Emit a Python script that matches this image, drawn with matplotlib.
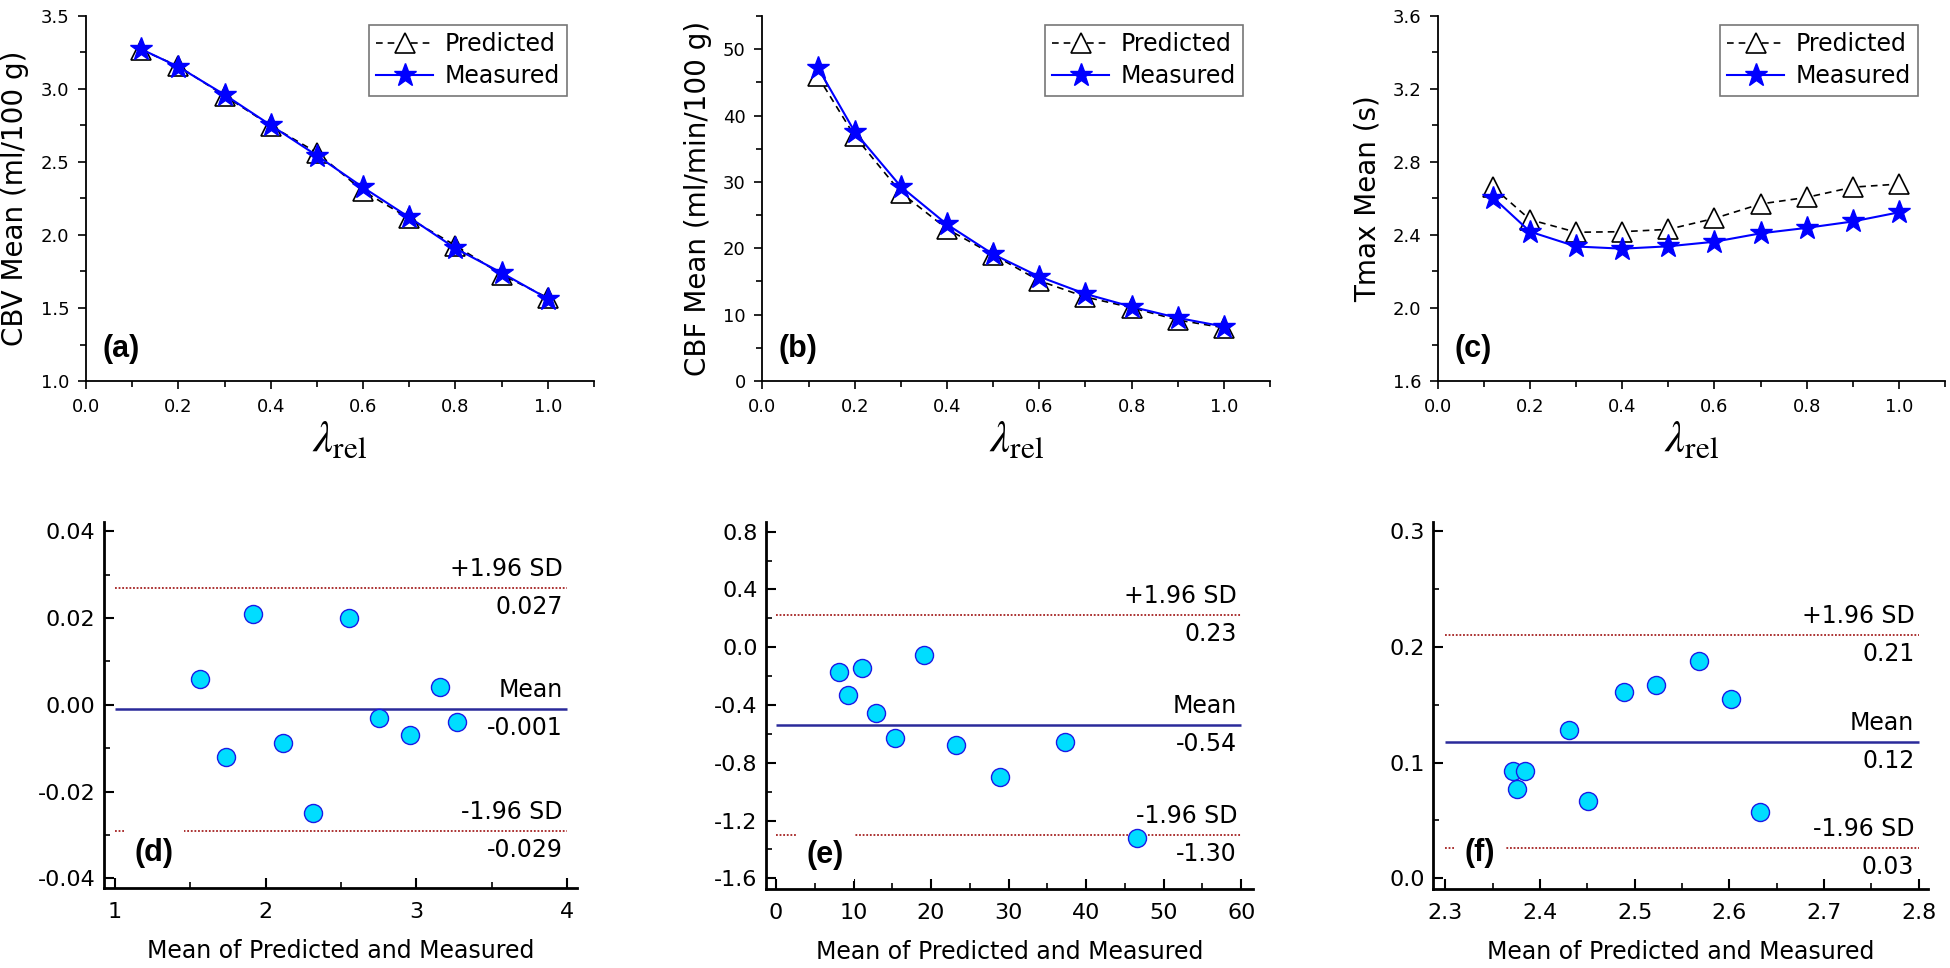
import matplotlib
matplotlib.use("Agg")
import matplotlib.pyplot as plt
from matplotlib.ticker import MultipleLocator, FormatStrFormatter

plt.rcParams['font.family'] = ['DejaVu Sans']
plt.rcParams['axes.unicode_minus'] = False
plt.rcParams['mathtext.fontset'] = 'stix'

# relative lambda values (top row x axis)
lam = [0.12, 0.2, 0.3, 0.4, 0.5, 0.6, 0.7, 0.8, 0.9, 1.0]
lam_ticks = [0.0, 0.2, 0.4, 0.6, 0.8, 1.0]

# CBV mean (ml/100 g)
cbv_pred = [3.268, 3.156, 2.954, 2.749, 2.564, 2.301, 2.113, 1.928, 1.729, 1.570]
cbv_meas = [3.272, 3.152, 2.961, 2.752, 2.544, 2.326, 2.121, 1.908, 1.741, 1.564]

# CBF mean (ml/min/100 g)
cbf_pred = [45.90, 36.89, 28.39, 22.91, 19.04, 15.10, 12.66, 11.05, 9.19, 8.02]
cbf_meas = [47.22, 37.55, 29.29, 23.59, 19.10, 15.72, 13.12, 11.19, 9.51, 8.20]

# Tmax mean (s)
tmax_pred = [2.661, 2.484, 2.415, 2.418, 2.431, 2.491, 2.570, 2.606, 2.662, 2.679]
tmax_meas = [2.604, 2.418, 2.337, 2.325, 2.338, 2.363, 2.409, 2.439, 2.474, 2.524]

# Bland-Altman: mean of predicted and measured vs difference
ba_cbv_m = [1.567, 1.735, 1.918, 2.117, 2.313, 2.554, 2.750, 2.957, 3.154, 3.270]
ba_cbv_d = [0.0060, -0.0121, 0.0209, -0.0089, -0.0250, 0.0200, -0.0030, -0.0070, 0.0041, -0.0040]
ba_cbv_lines = [0.027, -0.001, -0.029]
ba_cbv_text = ["0.027", "-0.001", "-0.029"]

ba_cbf_m = [8.11, 9.35, 11.12, 12.89, 15.41, 19.07, 23.25, 28.84, 37.22, 46.56]
ba_cbf_d = [-0.173, -0.328, -0.143, -0.452, -0.628, -0.055, -0.674, -0.900, -0.658, -1.318]
ba_cbf_lines = [0.225, -0.54, -1.30]
ba_cbf_text = ["0.23", "-0.54", "-1.30"]

ba_tmax_m = [2.3713, 2.3761, 2.3841, 2.4307, 2.4510, 2.4893, 2.5227, 2.5680, 2.6019, 2.6323]
ba_tmax_d = [0.0930, 0.0775, 0.0930, 0.1278, 0.0665, 0.1610, 0.1673, 0.1874, 0.1552, 0.0573]
ba_tmax_lines = [0.210, 0.118, 0.026]
ba_tmax_text = ["0.21", "0.12", "0.03"]


def top_panel(ax, pred, meas, ylim, ystep, yminor, yfmt, ylabel, tag):
    ax.plot(lam, pred, color='black', lw=1.2, ls=(0, (4, 3)), marker='^', ms=15,
            mfc='white', mec='black', mew=1.2, label='Predicted')
    ax.plot(lam, meas, color='blue', lw=1.5, ls='-', marker='*', ms=17,
            mfc='blue', mec='blue', label='Measured')
    ax.set_xticks(lam_ticks)
    ax.xaxis.set_minor_locator(MultipleLocator(0.1))
    ax.xaxis.set_major_formatter(FormatStrFormatter('%.1f'))
    ax.yaxis.set_major_locator(MultipleLocator(ystep))
    ax.yaxis.set_minor_locator(MultipleLocator(yminor))
    ax.yaxis.set_major_formatter(FormatStrFormatter(yfmt))
    ax.set_xlim(0, 1.1)
    ax.set_ylim(*ylim)
    ax.tick_params(which='major', direction='out', length=6, width=1.2, labelsize=13, pad=6)
    ax.tick_params(which='minor', direction='out', length=4, width=1.2)
    for s in ['top', 'right']:
        ax.spines[s].set_visible(False)
    for s in ['left', 'bottom']:
        ax.spines[s].set_linewidth(1.3)
    ax.set_ylabel(ylabel, fontsize=20, labelpad=8)
    ax.set_xlabel(r'$\lambda_{\mathrm{rel}}$', fontsize=32, labelpad=2)
    ax.text(0.07, 0.087, tag, transform=ax.transAxes, ha='center', va='center',
            fontsize=22, fontweight='bold', family='Liberation Sans')
    leg = ax.legend(loc='upper right', bbox_to_anchor=(0.947, 0.975), borderaxespad=0,
                    fontsize=17, handlelength=2.4, handletextpad=0.5, labelspacing=0.35,
                    borderpad=0.3, fancybox=False, framealpha=1)
    leg.get_frame().set_edgecolor('#777777')
    leg.get_frame().set_linewidth(1.2)


def ba_panel(ax, m, d, lines, texts, xlim, ylim, xstep, xminor, xfmt, ystep, yminor, yfmt,
             xr, tag, tag_pos):
    ax.plot(m, d, 'o', ms=13, mfc='#00DDFF', mec='#1a1ae6', mew=1.0, zorder=4)
    ax.hlines(lines[1], xr[0], xr[1], color='#2a2a9a', lw=1.8, zorder=2)
    ax.hlines([lines[0], lines[2]], xr[0], xr[1], color='#a52222', lw=1.3,
              linestyles=(0, (1, 1)), zorder=2)
    heads = ['+1.96 SD', 'Mean', '-1.96 SD']
    for y, h, t in zip(lines, heads, texts):
        ax.annotate(h, xy=(xr[1], y), xytext=(-3, 5), textcoords='offset points',
                    ha='right', va='bottom', fontsize=17)
        ax.annotate(t, xy=(xr[1], y), xytext=(-3, -5), textcoords='offset points',
                    ha='right', va='top', fontsize=17)
    ax.xaxis.set_major_locator(MultipleLocator(xstep))
    ax.xaxis.set_minor_locator(MultipleLocator(xminor))
    ax.xaxis.set_major_formatter(FormatStrFormatter(xfmt))
    ax.yaxis.set_major_locator(MultipleLocator(ystep))
    ax.yaxis.set_minor_locator(MultipleLocator(yminor))
    ax.yaxis.set_major_formatter(FormatStrFormatter(yfmt))
    ax.set_xlim(*xlim)
    ax.set_ylim(*ylim)
    ax.tick_params(which='major', direction='in', length=7, width=1.5, labelsize=16)
    ax.tick_params(which='minor', direction='in', length=4, width=1.2)
    ax.tick_params(axis='x', which='major', pad=10)
    ax.tick_params(axis='y', which='major', pad=6)
    for s in ['top', 'right']:
        ax.spines[s].set_visible(False)
    for s in ['left', 'bottom']:
        ax.spines[s].set_linewidth(2)
    ax.set_xlabel('Mean of Predicted and Measured', fontsize=17, labelpad=12)
    ax.text(tag_pos[0], tag_pos[1], tag, transform=ax.transAxes, ha='center', va='center',
            fontsize=22, fontweight='bold', family='Liberation Sans', zorder=3,
            bbox=dict(boxstyle='square,pad=0.35', fc='white', ec='none'))


fig = plt.figure(figsize=(19.5, 9.68), dpi=100)

ax_a = fig.add_axes([0.0441, 0.6064, 0.2605, 0.3771])
ax_b = fig.add_axes([0.3910, 0.6064, 0.2603, 0.3771])
ax_c = fig.add_axes([0.7374, 0.6064, 0.2600, 0.3771])
ax_d = fig.add_axes([0.0533, 0.0826, 0.2426, 0.3781])
ax_e = fig.add_axes([0.3928, 0.0816, 0.2497, 0.3791])
ax_f = fig.add_axes([0.7349, 0.0816, 0.2538, 0.3791])

top_panel(ax_a, cbv_pred, cbv_meas, (1.0, 3.5), 0.5, 0.25, '%.1f', 'CBV Mean (ml/100 g)', '(a)')
top_panel(ax_b, cbf_pred, cbf_meas, (0, 55), 10, 5, '%d', 'CBF Mean (ml/min/100 g)', '(b)')
top_panel(ax_c, tmax_pred, tmax_meas, (1.6, 3.6), 0.4, 0.2, '%.1f', 'Tmax Mean (s)', '(c)')

ba_panel(ax_d, ba_cbv_m, ba_cbv_d, ba_cbv_lines, ba_cbv_text, (0.927, 4.066), (-0.0422, 0.0421),
         1, 0.5, '%d', 0.02, 0.01, '%.2f', (1, 4), '(d)', (0.106, 0.096))
ba_panel(ax_e, ba_cbf_m, ba_cbf_d, ba_cbf_lines, ba_cbf_text, (-1.29, 61.5), (-1.674, 0.867),
         10, 5, '%d', 0.4, 0.2, '%.1f', (0, 60), '(e)', (0.121, 0.093))
ba_panel(ax_f, ba_tmax_m, ba_tmax_d, ba_tmax_lines, ba_tmax_text, (2.287, 2.810), (-0.0092, 0.3078),
         0.1, 0.05, '%.1f', 0.1, 0.05, '%.1f', (2.3, 2.8), '(f)', (0.095, 0.098))

fig.savefig('out.png', dpi=100)
